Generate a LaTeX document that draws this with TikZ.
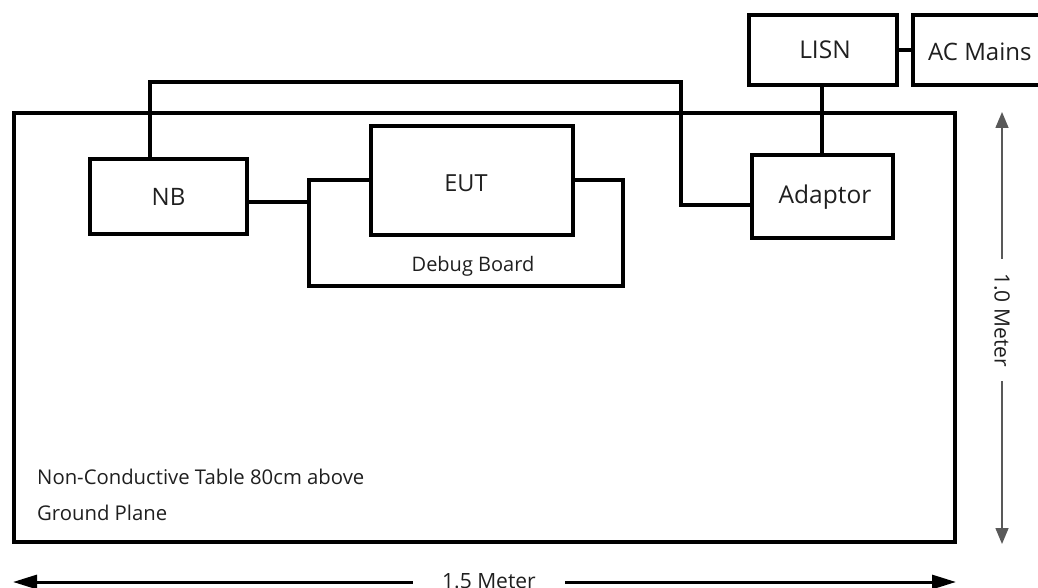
\documentclass[tikz,border=0pt]{standalone}
\usepackage{fontspec}
\setmainfont{Open Sans}
\usetikzlibrary{arrows.meta}
\begin{document}
\begin{tikzpicture}[x=1pt,y=-1pt,
  wire/.style={line width=4pt},
  boxnode/.style={draw,line width=4pt,rectangle,inner sep=0pt,font=\fontsize{24}{27}\selectfont,text=black!88},
  lbl/.style={inner sep=0pt,font=\fontsize{20.3}{23}\selectfont,text=black!88},
  dimlbl/.style={fill=white,font=\fontsize{21}{24}\selectfont,text=black!88},
]
\useasboundingbox (0,0) rectangle (1038,588);
% table
\node[draw,line width=4pt,rectangle,inner sep=0pt,minimum width=941pt,minimum height=429pt] (table) at (484.5,327.5) {};
% boxes
\node[boxnode,minimum width=157pt,minimum height=75pt] (nb) at (168.5,196.5) {NB};
\node[boxnode,minimum width=202pt,minimum height=109pt] (eut) at (472,180.5) {};
\node[lbl,font=\fontsize{23.5}{26}\selectfont] (euttxt) at (466,183) {EUT};
\node[boxnode,minimum width=141pt,minimum height=83pt] (adaptor) at (822.5,196.5) {};
\node[lbl,font=\fontsize{24.5}{27}\selectfont] (adtxt) at (825,197) {Adaptor};
\node[boxnode,minimum width=148pt,minimum height=70pt] (lisn) at (823,50) {};
\node[lbl,font=\fontsize{24.5}{27}\selectfont] (lisntxt) at (825,50) {LISN};
\node[boxnode,minimum width=150pt,minimum height=70pt,anchor=west] (ac) at (911,50) {};
\node[lbl,font=\fontsize{24}{27}\selectfont,anchor=west] (actxt) at (928,52) {AC Mains};
% debug board
\coordinate (dbl) at (309,202);
\draw[wire,line join=miter] (eut.west) -- (309,180.5) -- (309,286) -- (623,286) -- (623,180.5) -- (eut.east);
\node[lbl,font=\fontsize{20}{24}\selectfont] (dbtxt) at (473,266) {Debug Board};
% wires
\draw[wire] (nb.east |- dbl) -- (dbl);
\draw[wire,line join=miter] ([xshift=-18.5pt]nb.north) |- (681,82) |- ([yshift=-8pt]adaptor.west);
\draw[wire] (lisn.south -| 822,0) -- (adaptor.north -| 822,0);
\draw[wire] (lisn.east) -- (ac.west);
% table label
\node[lbl,anchor=west] (t1) at (37,477) {Non-Conductive Table 80cm above};
\node[lbl,anchor=west] (t2) at (37,513) {Ground Plane};
% dimensions
\coordinate (vt) at (1002,112);
\coordinate (vb) at (1002,544);
\draw[black!65,line width=1.6pt,{Triangle[length=16pt,width=13pt]}-{Triangle[length=16pt,width=13pt]}] (vt) -- (vb);
\node[dimlbl,rotate=-90,inner xsep=14pt,inner ysep=2pt] (vl) at (1002,320) {1.0 Meter};
\coordinate (hl) at (13,582);
\coordinate (hr) at (956,582);
\draw[black,line width=3pt,{Triangle[length=24pt,width=14pt]}-{Triangle[length=24pt,width=14pt]}] (hl) -- (hr);
\node[dimlbl,inner xsep=29pt,inner ysep=1pt] (hlab) at (489,581) {1.5 Meter};
\end{tikzpicture}
\end{document}
